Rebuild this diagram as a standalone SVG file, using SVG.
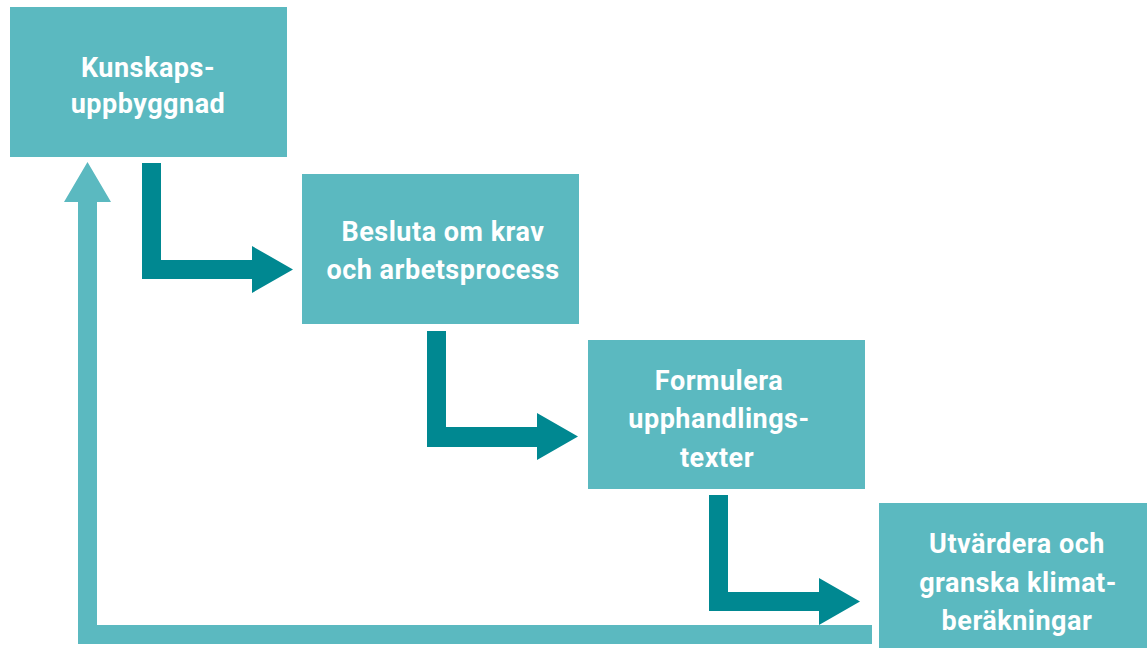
<svg xmlns="http://www.w3.org/2000/svg" width="1147" height="648" viewBox="0 0 1147 648">
<style>
.box{fill:#5BB9C0}
.lt{fill:#5BB9C0}
.dk{fill:#008891}
text{font-family:"Roboto","Liberation Sans",sans-serif;font-weight:bold;font-size:27px;fill:#FFFFFF;text-anchor:middle;letter-spacing:0.5px}
</style>
<rect width="1147" height="648" fill="#FFFFFF"/>
<g id="connectors">
<path class="lt" d="M872,625 L97,625 L97,202 L111,202 L87.5,162 L64,202 L78,202 L78,644 L872,644 Z"/>
<path class="dk" d="M142,163 L161,163 L161,260 L252,260 L252,246 L293,269.5 L252,293 L252,279 L142,279 Z"/>
<path class="dk" d="M427,331 L446,331 L446,427 L537,427 L537,413 L578,436.5 L537,460 L537,447 L427,447 Z"/>
<path class="dk" d="M709,495 L728,495 L728,592 L819,592 L819,578 L860,601.5 L819,625 L819,611 L709,611 Z"/>
</g>
<g id="node1">
<rect class="box" x="10" y="7" width="277" height="150"/>
<text x="148" y="77">Kunskaps-</text>
<text x="148" y="113">uppbyggnad</text>
</g>
<g id="node2">
<rect class="box" x="302" y="174" width="277" height="150"/>
<text x="443" y="241">Besluta om krav</text>
<text x="443" y="279">och arbetsprocess</text>
</g>
<g id="node3">
<rect class="box" x="588" y="340" width="277" height="149"/>
<text x="719" y="390">Formulera</text>
<text x="719" y="428">upphandlings-</text>
<text x="717" y="467">texter</text>
</g>
<g id="node4">
<rect class="box" x="879" y="503" width="268" height="145"/>
<text x="1017" y="553">Utvärdera och</text>
<text x="1018" y="592">granska klimat-</text>
<text x="1017" y="630">beräkningar</text>
</g>
</svg>
